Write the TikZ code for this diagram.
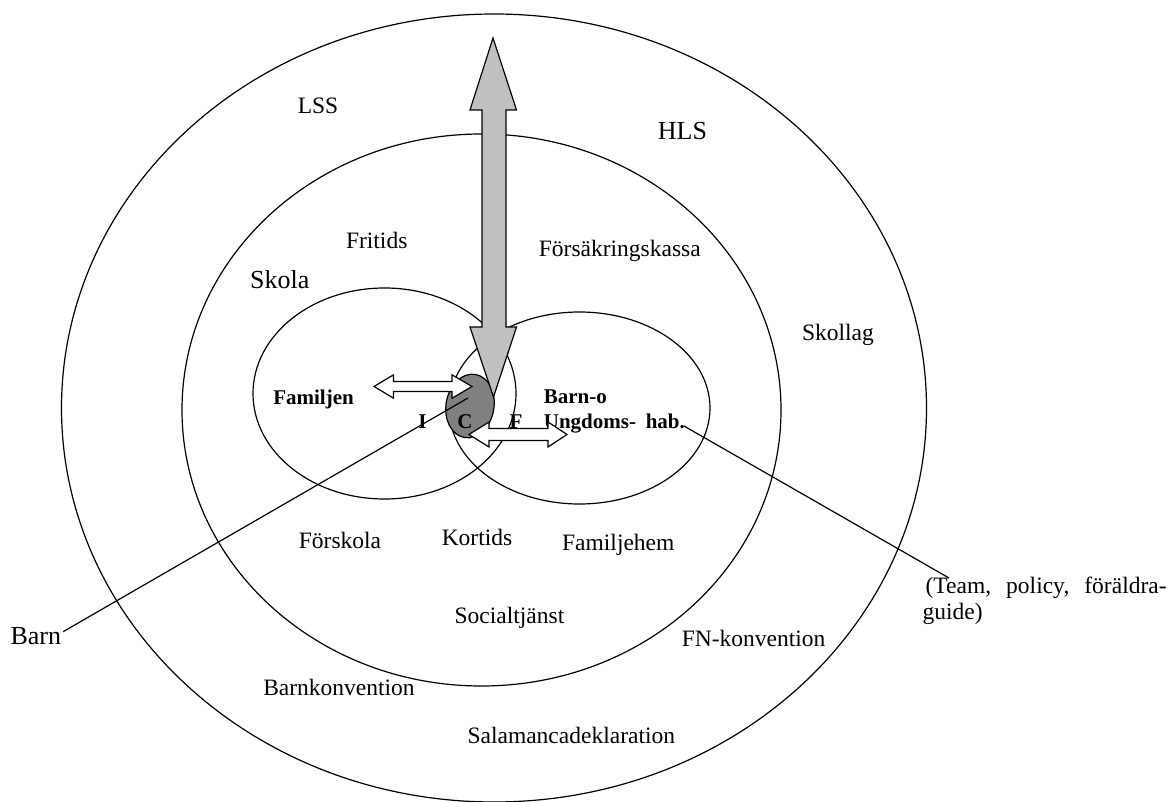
\documentclass[tikz,border=0pt]{standalone}
\usepackage{fontspec}
\setmainfont{Liberation Serif}
\usetikzlibrary{calc}
\definecolor{arrowgray}{HTML}{C0C0C0}
\definecolor{darkgray}{HTML}{808080}
\begin{document}
\begin{tikzpicture}[x=1pt,y=-1pt,line width=1.2pt,
  lbl/.style={font=\fontsize{23.5}{28}\selectfont,inner sep=0pt,anchor=base},
  big/.style={font=\fontsize{26}{30}\selectfont,inner sep=0pt,anchor=base},
  bld/.style={font=\fontsize{21}{25}\selectfont\bfseries,inner sep=0pt,anchor=base},
  ring/.style={draw,line width=1.2pt},
  grayarrow/.style={draw,fill=arrowgray,line width=1.2pt,line join=miter},
  whitearrow/.style={draw,fill=white,line width=1.2pt,line join=miter},
  leader/.style={draw,line width=1.2pt}]
\useasboundingbox (0,0) rectangle (1173,802);
% rings
\draw[ring] (494,408) ellipse [x radius=432.5, y radius=394];
\draw[ring] (481.5,410) ellipse [x radius=299.5, y radius=276];
\draw[ring] (384.5,393.5) ellipse [x radius=131.5, y radius=105.5];
\draw[ring] (579.5,408) ellipse [x radius=130.5, y radius=96];
% child ellipse
\draw[ring,fill=darkgray,rotate around={-10:(470,406)}] (470,406) ellipse [x radius=24, y radius=32];
% texts
\node[lbl] (lss) at (318,113.5) {LSS};
\node[big] (hls) at (682.5,140) {HLS};
\node[lbl] (fritids) at (376.7,248.3) {Fritids};
\node[lbl] (fk) at (619.8,256.7) {Försäkringskassa};
\node[big] (skola) at (279.7,288.3) {Skola};
\node[lbl] (skollag) at (838,340.5) {Skollag};
\node[bld] (familjen) at (313.5,404) {Familjen};
\node[bld,anchor=base west] (barno) at (543.3,403.3) {Barn-o};
\node[bld,anchor=base west] (hab) at (543.3,428.3) {\makebox[141pt][s]{Ungdoms- hab.}};
\node[bld] (ii) at (422.5,428.3) {I};
\node[bld] (cc) at (465,428.3) {C};
\node[bld] (ff) at (516,428.3) {F};
\node[lbl] (forskola) at (340,548.3) {Förskola};
\node[lbl] (kortids) at (477,545) {Kortids};
\node[lbl] (fhem) at (618.3,550.7) {Familjehem};
\node[lbl] (soc) at (509.5,623.3) {Socialtjänst};
\node[lbl] (fn) at (753.6,646.7) {FN-konvention};
\node[lbl] (bk) at (339,695) {Barnkonvention};
\node[lbl] (sal) at (571.3,743.3) {Salamancadeklaration};
\node[big,anchor=base west,inner xsep=1.5pt] (barn) at (8.5,644) {Barn};
\node[lbl,anchor=base west] (team) at (925,593) {\makebox[241pt][s]{(Team, policy, föräldra-}};
\node[lbl,anchor=base west] (guide) at (922,619) {guide)};
% big gray double arrow
\draw[grayarrow] (493,38) -- (516.5,110) -- (506,110) -- (506,327) -- (516.5,327)
  -- (493.5,397) -- (470,327) -- (482,327) -- (482,110) -- (470,110) -- cycle;
% white double arrows
\draw[whitearrow] (374,386.5) -- (393.5,374.8) -- (393.5,381.5) -- (452,381.5) -- (452,374.8)
  -- (472,386.5) -- (452,398.2) -- (452,391.5) -- (393.5,391.5) -- (393.5,398.2) -- cycle;
\draw[whitearrow] (469,434.5) -- (489,422) -- (489,428.5) -- (548,428.5) -- (548,422)
  -- (567,434.5) -- (548,447) -- (548,440.5) -- (489,440.5) -- (489,447) -- cycle;
% leader lines
\coordinate (childpt) at (468,398);
\coordinate (teampt) at (949,578);
\coordinate (habpt) at (684,426);
\draw[leader] ($(barn.east)+(0,-4)$) -- (childpt);
\draw[leader] (habpt) -- (teampt);
\end{tikzpicture}
\end{document}
